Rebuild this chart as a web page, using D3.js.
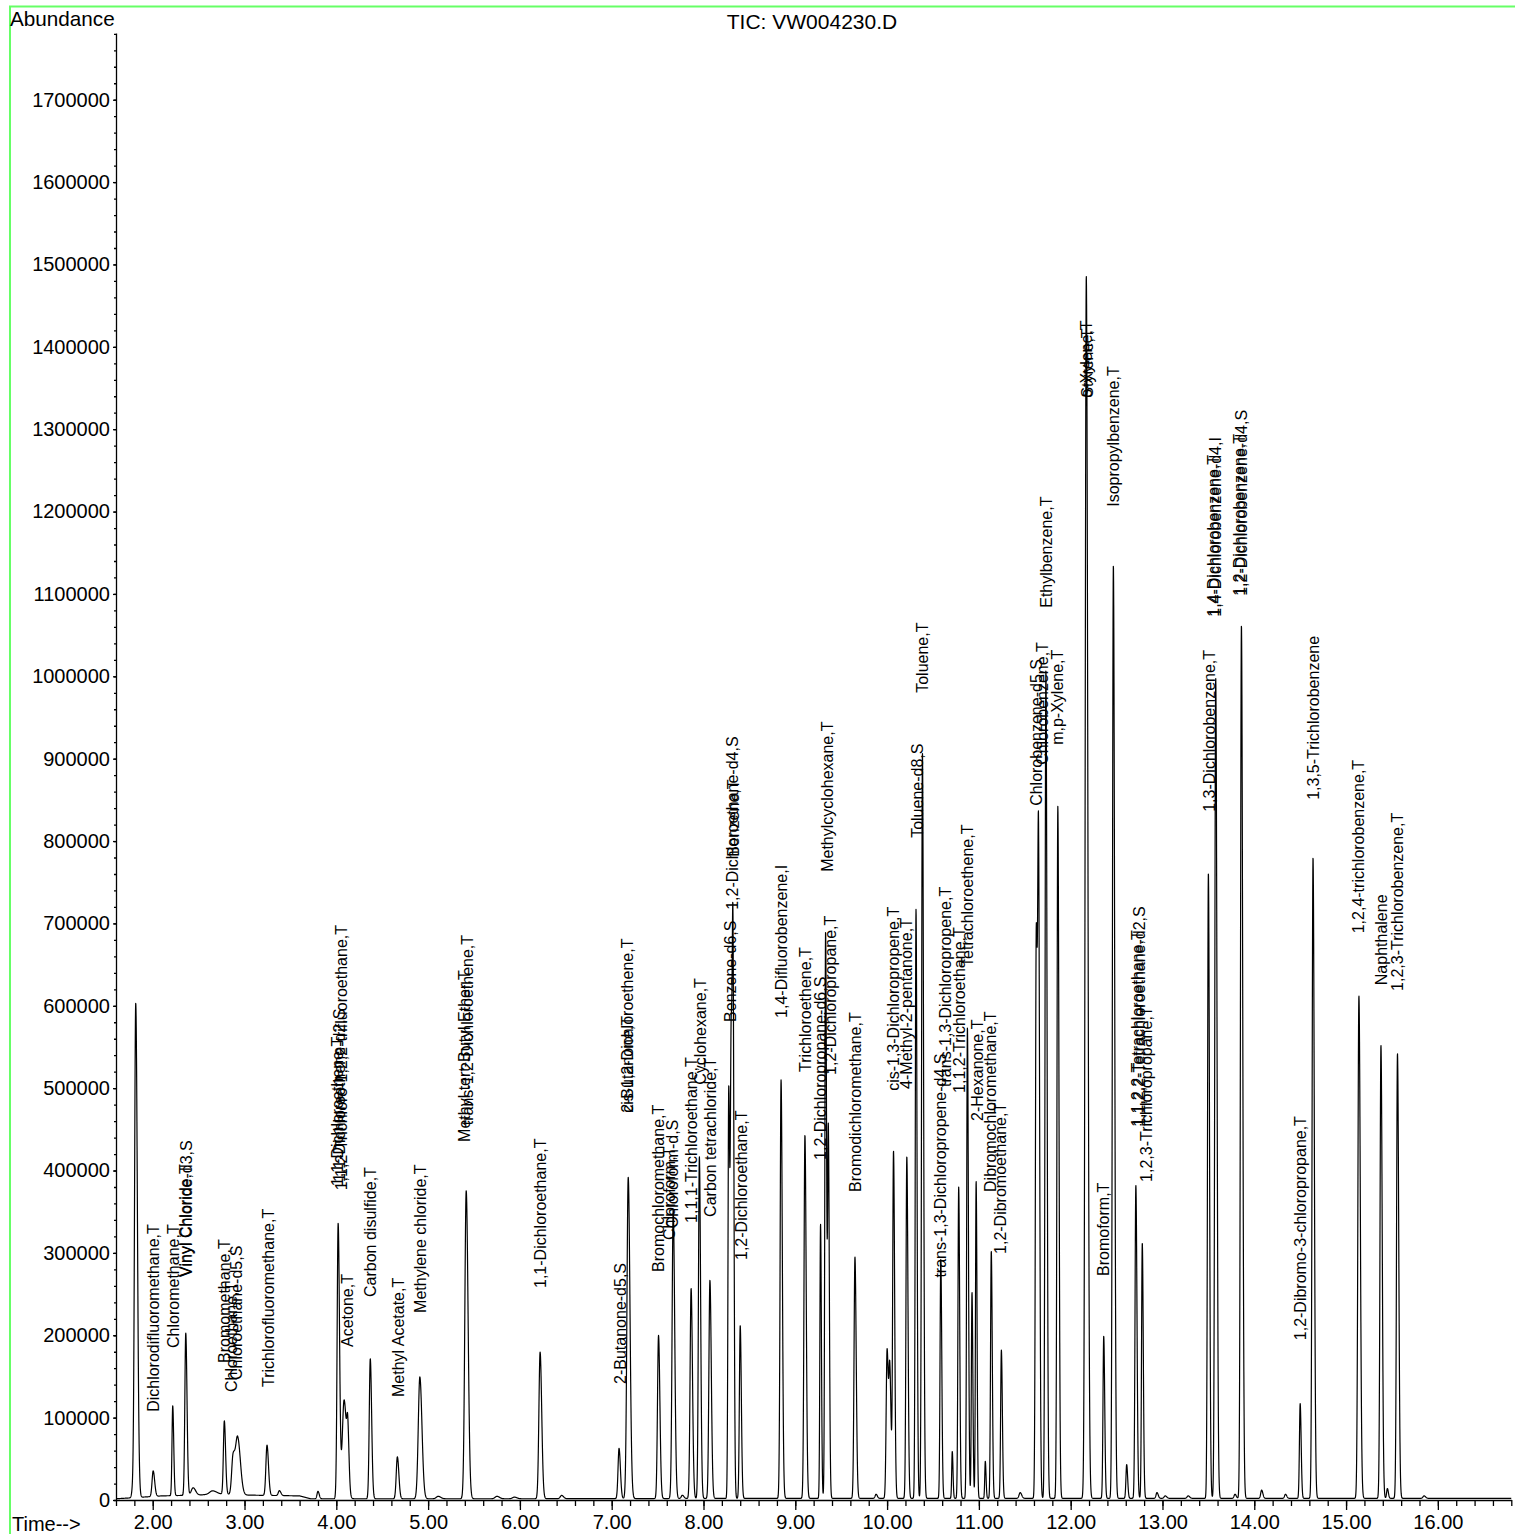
<!DOCTYPE html>
<html><head><meta charset="utf-8">
<script src="https://cdn.jsdelivr.net/npm/d3@7"></script>
<style>
body{margin:0;background:#fff}
svg{display:block}
text{font-family:"Liberation Sans",Arial,Helvetica,sans-serif;fill:#000}
</style>
</head><body>
<svg id="chart" width="1515" height="1534"></svg>
<script>
// ---- data ----
const peakTimes   = [1.78,1.815,2.005,2.218,2.36,2.44,2.65,2.78,2.875,2.925,3.245,3.38,3.80,4.02,4.085,4.125,4.37,4.665,4.91,5.11,5.415,5.75,5.94,6.22,6.455,7.08,7.18,7.51,7.67,7.77,7.865,7.955,8.07,8.275,8.302,8.322,8.40,8.845,9.105,9.275,9.33,9.36,9.65,9.88,10.00,10.03,10.07,10.215,10.315,10.385,10.585,10.71,10.78,10.875,10.925,10.97,11.07,11.135,11.245,11.45,11.625,11.65,11.73,11.86,12.17,12.36,12.465,12.61,12.71,12.78,12.94,13.03,13.28,13.50,13.58,13.79,13.86,14.08,14.34,14.50,14.64,15.14,15.38,15.45,15.56,15.85];
const peakHeights = [8000,600000,31000,109000,197000,9000,4000,89000,45000,69000,61000,6000,9000,334000,120000,60000,170000,51000,148000,3000,374000,3000,2000,178000,4000,61000,390000,198000,351000,4000,255000,415000,265000,495000,540000,560000,210000,508000,441000,333000,688000,440000,293000,5000,180000,150000,420000,415000,715000,905000,290000,57000,378000,572000,250000,385000,45000,300000,180000,7000,680000,740000,1006000,840000,1484000,197000,1133000,41000,380000,310000,7000,3000,3000,759000,996000,5000,1060000,10000,5000,115000,778000,610000,550000,12000,540000,3000];
const peakWidths  = [0.010,0.013,0.012,0.008,0.010,0.020,0.030,0.010,0.015,0.022,0.012,0.012,0.010,0.011,0.020,0.010,0.011,0.012,0.017,0.020,0.015,0.020,0.020,0.013,0.015,0.011,0.014,0.011,0.012,0.012,0.011,0.010,0.011,0.008,0.009,0.008,0.009,0.010,0.010,0.007,0.008,0.008,0.010,0.010,0.010,0.010,0.009,0.009,0.008,0.009,0.008,0.006,0.008,0.008,0.007,0.007,0.006,0.008,0.008,0.012,0.009,0.009,0.009,0.009,0.012,0.008,0.010,0.008,0.009,0.008,0.010,0.012,0.012,0.009,0.010,0.010,0.010,0.010,0.010,0.008,0.010,0.011,0.010,0.008,0.010,0.012];

const baselineTimes  = [1.60,1.75,2.10,2.50,2.70,3.00,3.60,3.72,4.30,6.00,9.00,12.00,16.80];
const baselineValues = [1500,2500,5000,6000,7500,6000,5000,1500,1500,1500,2000,2000,2000];

const labelNames = ["Dichlorodifluoromethane,T","Chloromethane,T","Vinyl Chloride,T","Vinyl Chloride-d3,S","Bromomethane,T","Chloroethane,T","Chloroethane-d5,S","Trichlorofluoromethane,T","1,1-Dichloroethene,T","1,1-Dichloroethene-d2,S","1,1,2-Trichloro-1,2,2-trifluoroethane,T","Acetone,T","Carbon disulfide,T","Methyl Acetate,T","Methylene chloride,T","Methyl tert-Butyl Ether,T","trans-1,2-Dichloroethene,T","1,1-Dichloroethane,T","2-Butanone-d5,S","2-Butanone,T","cis-1,2-Dichloroethene,T","Bromochloromethane,T","Chloroform,T","Chloroform-d,S","1,1,1-Trichloroethane,T","Cyclohexane,T","Carbon tetrachloride,T","Benzene-d6,S","1,2-Dichloroethane-d4,S","Benzene,T","1,2-Dichloroethane,T","1,4-Difluorobenzene,I","Trichloroethene,T","1,2-Dichloropropane-d6,S","1,2-Dichloropropane,T","Methylcyclohexane,T","Bromodichloromethane,T","cis-1,3-Dichloropropene,T","4-Methyl-2-pentanone,T","Toluene-d8,S","Toluene,T","trans-1,3-Dichloropropene-d4,S","trans-1,3-Dichloropropene,T","1,1,2-Trichloroethane,T","Tetrachloroethene,T","2-Hexanone,T","Dibromochloromethane,T","1,2-Dibromoethane,T","Chlorobenzene-d5,S","Chlorobenzene,T","Ethylbenzene,T","m,p-Xylene,T","o-Xylene,T","Styrene,T","Bromoform,T","Isopropylbenzene,T","1,1,2,2-Tetrachloroethane,T","1,1,2,2-Tetrachloroethane-d2,S","1,2,3-Trichloropropane,T","1,3-Dichlorobenzene,T","1,4-Dichlorobenzene,T","1,4-Dichlorobenzene-d4,I","1,2-Dichlorobenzene,T","1,2-Dichlorobenzene-d4,S","1,2-Dibromo-3-chloropropane,T","1,3,5-Trichlorobenzene","1,2,4-trichlorobenzene,T","Naphthalene","1,2,3-Trichlorobenzene,T"];
const labelTimes  = [2.003,2.221,2.357,2.363,2.780,2.860,2.907,3.256,4.010,4.030,4.055,4.117,4.367,4.672,4.912,5.400,5.425,6.225,7.090,7.167,7.172,7.505,7.630,7.665,7.864,7.962,8.070,8.289,8.320,8.322,8.409,8.845,9.105,9.270,9.378,9.345,9.650,10.064,10.206,10.326,10.380,10.580,10.630,10.790,10.880,10.980,11.120,11.230,11.630,11.690,11.730,11.860,12.170,12.180,12.360,12.460,12.730,12.750,12.820,13.510,13.555,13.575,13.840,13.860,14.500,14.640,15.130,15.380,15.560];
const labelLevels = [107000,184600,270800,270800,166400,131100,145700,137200,381000,386000,376000,185800,246500,125100,227100,434700,455000,257400,140900,470000,470000,276900,315700,330000,336400,504000,343700,580400,716500,780800,291400,585300,519700,412900,516100,762600,374000,496700,499100,803900,980000,270000,501500,494200,647200,460200,374000,298700,842700,892500,1083200,916800,1338200,1338200,272000,1205800,453000,453000,386200,835500,1072300,1072300,1097700,1097700,194000,850000,688000,625000,618000];

const xTickValues = [2,3,4,5,6,7,8,9,10,11,12,13,14,15,16];
const xTickLabels = ["2.00","3.00","4.00","5.00","6.00","7.00","8.00","9.00","10.00","11.00","12.00","13.00","14.00","15.00","16.00"];
const yTickValues = [0,100000,200000,300000,400000,500000,600000,700000,800000,900000,1000000,1100000,1200000,1300000,1400000,1500000,1600000,1700000];
const yTickLabels = ["0","100000","200000","300000","400000","500000","600000","700000","800000","900000","1000000","1100000","1200000","1300000","1400000","1500000","1600000","1700000"];

// ---- layout ----
const svg = d3.select("#chart");
const x = d3.scaleLinear().domain([1.6, 16.8]).range([116, 1511.3]);
const y = d3.scaleLinear().domain([0, 1781000]).range([1500, 33]);

// frame
svg.append("rect").attr("x",10).attr("y",6.5).attr("width",1530).attr("height",1540)
  .attr("fill","none").attr("stroke","#66ff66").attr("stroke-width",2);

// trace: baseline plus the listed peaks (slightly tailing shape)
const baseline = d3.scaleLinear().domain(baselineTimes).range(baselineValues);
const peaks = peakTimes.map((t,i)=>({t, h:peakHeights[i], w:peakWidths[i]}));
const samples = d3.range(1.6, 16.8001, 0.0015).map(t=>{
  let v = 0;
  for (const p of peaks) {
    const s = t < p.t ? p.w : p.w*1.35;
    const d = (t - p.t)/s;
    if (Math.abs(d) < 8) v += p.h*Math.exp(-0.5*d*d);
  }
  return [t, v + baseline(t)];
});
const line = d3.line().x(d=>x(d[0])).y(d=>y(d[1]));
svg.append("path").datum(samples).attr("d",line)
  .attr("fill","none").attr("stroke","#000").attr("stroke-width",1.2).attr("stroke-linejoin","round");

// axes
const yAxis = svg.append("g").attr("transform","translate(116,0)")
  .call(d3.axisLeft(y).tickValues(yTickValues).tickSize(3).tickSizeOuter(0).tickPadding(3)
        .tickFormat((d,i)=>yTickLabels[i]));
svg.append("g").attr("transform","translate(116,0)")
  .call(d3.axisLeft(y).tickValues(d3.range(0,1780001,20000)).tickSize(2).tickSizeOuter(0).tickFormat(""))
  .select(".domain").remove();
const xAxis = svg.append("g").attr("transform","translate(0,1500)")
  .call(d3.axisBottom(x).tickValues(xTickValues).tickSize(10).tickSizeOuter(0).tickPadding(5)
        .tickFormat((d,i)=>xTickLabels[i]));
svg.append("g").attr("transform","translate(0,1500)")
  .call(d3.axisBottom(x).tickValues(d3.range(1.6,16.81,0.2)).tickSize(6).tickSizeOuter(0).tickFormat(""))
  .select(".domain").remove();
svg.selectAll(".domain,.tick line").attr("stroke","#000").attr("stroke-width",1.3);
yAxis.selectAll("text").attr("font-size",20).attr("font-family","Liberation Sans, Arial, sans-serif");
xAxis.selectAll("text").attr("font-size",20).attr("font-family","Liberation Sans, Arial, sans-serif");

// titles
svg.append("text").attr("x",10).attr("y",26).attr("font-size",20.7).text("Abundance");
svg.append("text").attr("x",812).attr("y",29).attr("font-size",21).attr("text-anchor","middle").text("TIC: VW004230.D");
svg.append("text").attr("x",12).attr("y",1531).attr("font-size",20).text("Time-->");

// peak labels
svg.append("g").selectAll("text").data(labelNames).join("text")
  .attr("transform",(d,i)=>`translate(${x(labelTimes[i])},${y(labelLevels[i])}) rotate(-90)`)
  .attr("dy","0.35em").attr("font-size",16).text(d=>d);
</script>
</body></html>
